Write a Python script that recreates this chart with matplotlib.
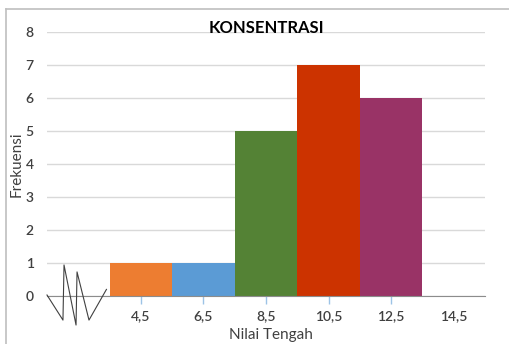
import matplotlib
matplotlib.use("Agg")
import matplotlib.pyplot as plt
from matplotlib.lines import Line2D

plt.rcParams['font.family'] = ['Lato', 'DejaVu Sans']

# frekuensi per nilai tengah (kelas pertama kosong, untuk tanda patahan sumbu)
nilai_tengah = ['', '4,5', '6,5', '8,5', '10,5', '12,5', '14,5']
frekuensi = [0, 1, 1, 5, 7, 6, 0]
warna = ['#ffffff', '#ED7D31', '#5B9BD5', '#548235', '#CC3300', '#993366', '#ffffff']

# tanda patahan sumbu (zigzag) di kelas pertama
zig_x = [-0.5, -0.245, -0.228, -0.036, -0.02, 0.171, 0.42, 0.45]
zig_y = [0.03, -0.73, 0.94, -0.88, 0.73, -0.73, 0.1, 0.2]

fig = plt.figure(figsize=(5.09, 3.44), dpi=100)
ax = fig.add_axes([47 / 509, 48 / 344, 438 / 509, 264 / 344])

pos = list(range(len(nilai_tengah)))
ax.bar(pos, frekuensi, width=1.0, color=warna, zorder=2)

ax.set_xlim(-0.5, len(nilai_tengah) - 0.5)
ax.set_ylim(0, 8)
ax.set_yticks(range(0, 9))
ax.set_xticks(pos)
ax.set_xticklabels(nilai_tengah)

ax.grid(axis='y', color='#d9d9d9', linewidth=1, zorder=0)
ax.set_axisbelow(True)
for s in ['top', 'right', 'left']:
    ax.spines[s].set_visible(False)
ax.spines['bottom'].set_color('#8c8c8c')
ax.spines['bottom'].set_zorder(3)

ax.tick_params(axis='y', length=0, pad=9.5, labelsize=10, labelcolor='#404040')
ax.tick_params(axis='x', direction='inout', length=12, width=1, color='#9DC3E6',
               pad=4, labelsize=10, labelcolor='#404040')
for lab in ax.get_xticklabels() + ax.get_yticklabels():
    lab.set_fontweight('semibold')
ticks = ax.xaxis.get_major_ticks()
ticks[0].tick1line.set_visible(False)
ticks[-1].tick1line.set_visible(False)
for t in ticks:
    t.tick1line.set_zorder(4)

ax.plot(zig_x, zig_y, color='#404040', linewidth=0.8, clip_on=False, zorder=5)

ax.set_title('KONSENTRASI', fontsize=12, fontweight='bold', color='black', pad=-1)
fig.text(271 / 509, 1 - 335 / 344, 'Nilai Tengah', fontsize=11, color='#404040',
         ha='center', va='center')
fig.text(17 / 509, 1 - 164 / 344, 'Frekuensi', fontsize=11, color='#404040',
         ha='center', va='center', rotation=90)

# bingkai grafik
fig.add_artist(Line2D([5.5 / 509, 5.5 / 509], [0, 1 - 9 / 344], color='#bfbfbf', linewidth=1.2))
fig.add_artist(Line2D([5.5 / 509, 1], [1 - 9 / 344, 1 - 9 / 344], color='#bfbfbf', linewidth=1.2))

fig.savefig('out.png', dpi=100)
